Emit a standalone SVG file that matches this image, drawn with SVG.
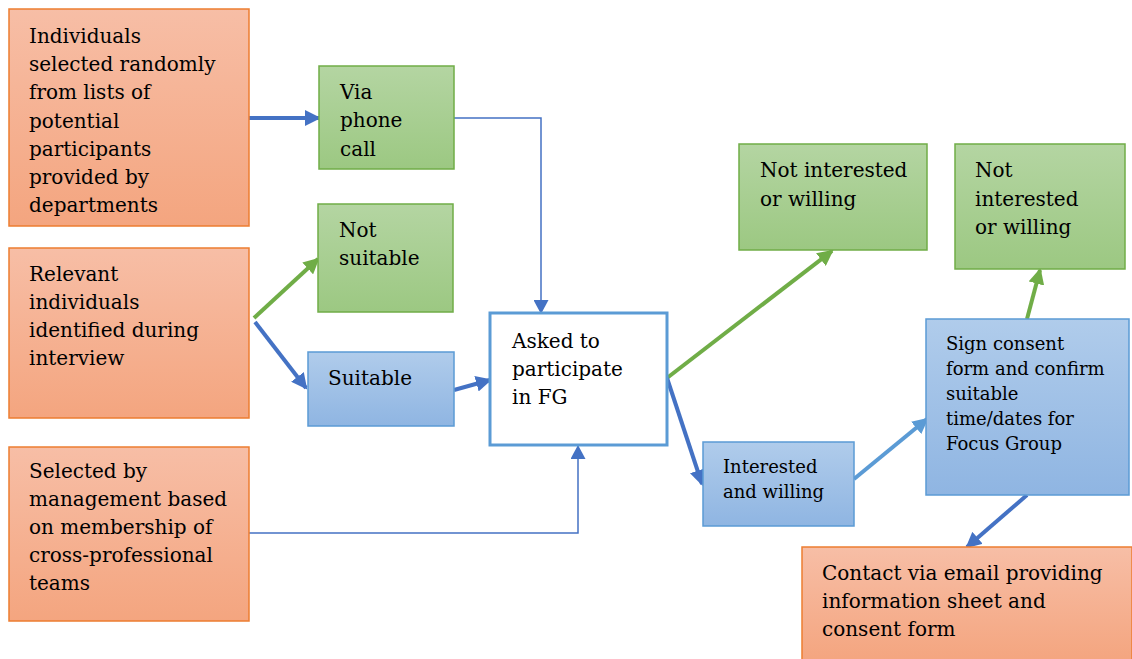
<svg xmlns="http://www.w3.org/2000/svg" width="1132" height="659" viewBox="0 0 1132 659">
<defs>
<linearGradient id="gO" x1="0" y1="0" x2="0" y2="1"><stop offset="0" stop-color="#F7BEA6"/><stop offset="1" stop-color="#F4A57F"/></linearGradient>
<linearGradient id="gG" x1="0" y1="0" x2="0" y2="1"><stop offset="0" stop-color="#B4D5A2"/><stop offset="1" stop-color="#9CC882"/></linearGradient>
<linearGradient id="gB" x1="0" y1="0" x2="0" y2="1"><stop offset="0" stop-color="#B0CCEB"/><stop offset="1" stop-color="#8FB5E2"/></linearGradient>
<marker id="aB" markerUnits="userSpaceOnUse" markerWidth="17" markerHeight="16" refX="14" refY="8" orient="auto"><path d="M0,0 L16,8 L0,16 z" fill="#4472C4"/></marker>
<marker id="aG" markerUnits="userSpaceOnUse" markerWidth="17" markerHeight="16" refX="14" refY="8" orient="auto"><path d="M0,0 L16,8 L0,16 z" fill="#70AD47"/></marker>
<marker id="aL" markerUnits="userSpaceOnUse" markerWidth="17" markerHeight="16" refX="14" refY="8" orient="auto"><path d="M0,0 L16,8 L0,16 z" fill="#5B9BD5"/></marker>
<marker id="aT" markerUnits="userSpaceOnUse" markerWidth="15" markerHeight="15" refX="14" refY="7.5" orient="auto"><path d="M0,0 L14,7.5 L0,15 z" fill="#4472C4"/></marker>
</defs>
<style>
text{font-family:"DejaVu Serif","Liberation Serif",serif;font-size:20px;fill:#000}
.s{font-size:18px}
.o{fill:url(#gO);stroke:#ED7D31;stroke-width:1.5}
.g{fill:url(#gG);stroke:#70AD47;stroke-width:1.5}
.b{fill:url(#gB);stroke:#5B9BD5;stroke-width:1.5}
.w{fill:#fff;stroke:#5B9BD5;stroke-width:3}
.cb{fill:none;stroke:#4472C4;stroke-width:4}
.cg{fill:none;stroke:#70AD47;stroke-width:4}
.cl{fill:none;stroke:#5B9BD5;stroke-width:4}
.ct{fill:none;stroke:#4472C4;stroke-width:1.5}
</style>
<g id="connectors">
<line class="cb" x1="249" y1="118" x2="319" y2="118" marker-end="url(#aB)"/>
<polyline class="ct" points="454,118 541,118 541,314" marker-end="url(#aT)"/>
<line class="cg" x1="254" y1="318" x2="318" y2="259" marker-end="url(#aG)"/>
<line class="cb" x1="255" y1="322" x2="306" y2="388" marker-end="url(#aB)"/>
<line class="cb" x1="454" y1="390" x2="490" y2="380" marker-end="url(#aB)"/>
<polyline class="ct" points="249,533 578,533 578,445" marker-end="url(#aT)"/>
<line class="cg" x1="667" y1="378" x2="832" y2="251" marker-end="url(#aG)"/>
<line class="cb" x1="667" y1="378" x2="702" y2="484" marker-end="url(#aB)"/>
<line class="cl" x1="854" y1="479" x2="927" y2="419" marker-end="url(#aL)"/>
<line class="cg" x1="1027" y1="319" x2="1040" y2="270" marker-end="url(#aG)"/>
<line class="cb" x1="1027" y1="495" x2="967" y2="547" marker-end="url(#aB)"/>
</g>
<g id="n-random">
<rect class="o" x="9" y="9" width="240" height="217"/>
<text x="29" y="43">Individuals</text>
<text x="29" y="71">selected randomly</text>
<text x="29" y="99">from lists of</text>
<text x="29" y="128">potential</text>
<text x="29" y="156">participants</text>
<text x="29" y="184">provided by</text>
<text x="29" y="212">departments</text>
</g>
<g id="n-phone">
<rect class="g" x="319" y="66" width="135" height="103"/>
<text x="340" y="99">Via</text>
<text x="340" y="127">phone</text>
<text x="340" y="156">call</text>
</g>
<g id="n-notsuitable">
<rect class="g" x="318" y="204" width="135" height="108"/>
<text x="339" y="237">Not</text>
<text x="339" y="265">suitable</text>
</g>
<g id="n-interview">
<rect class="o" x="9" y="248" width="240" height="170"/>
<text x="29" y="281">Relevant</text>
<text x="29" y="309">individuals</text>
<text x="29" y="337">identified during</text>
<text x="29" y="365">interview</text>
</g>
<g id="n-suitable">
<rect class="b" x="308" y="352" width="146" height="74"/>
<text x="328" y="385">Suitable</text>
</g>
<g id="n-asked">
<rect class="w" x="490" y="313" width="177" height="132"/>
<text x="512" y="348">Asked to</text>
<text x="512" y="376">participate</text>
<text x="512" y="404">in FG</text>
</g>
<g id="n-management">
<rect class="o" x="9" y="447" width="240" height="174"/>
<text x="29" y="478">Selected by</text>
<text x="29" y="506">management based</text>
<text x="29" y="534">on membership of</text>
<text x="29" y="562">cross-professional</text>
<text x="29" y="590">teams</text>
</g>
<g id="n-notinterested1">
<rect class="g" x="739" y="144" width="188" height="106"/>
<text x="760" y="177">Not interested</text>
<text x="760" y="206">or willing</text>
</g>
<g id="n-notinterested2">
<rect class="g" x="955" y="144" width="170" height="125"/>
<text x="975" y="177">Not</text>
<text x="975" y="206">interested</text>
<text x="975" y="234">or willing</text>
</g>
<g id="n-sign">
<rect class="b" x="926" y="319" width="203" height="176"/>
<text class="s" x="946" y="350">Sign consent</text>
<text class="s" x="946" y="375">form and confirm</text>
<text class="s" x="946" y="400">suitable</text>
<text class="s" x="946" y="425">time/dates for</text>
<text class="s" x="946" y="450">Focus Group</text>
</g>
<g id="n-interested">
<rect class="b" x="703" y="442" width="151" height="84"/>
<text class="s" x="723" y="473">Interested</text>
<text class="s" x="723" y="498">and willing</text>
</g>
<g id="n-contact">
<rect class="o" x="802" y="547" width="330" height="114"/>
<text x="822" y="580">Contact via email providing</text>
<text x="822" y="608">information sheet and</text>
<text x="822" y="636">consent form</text>
</g>
</svg>
